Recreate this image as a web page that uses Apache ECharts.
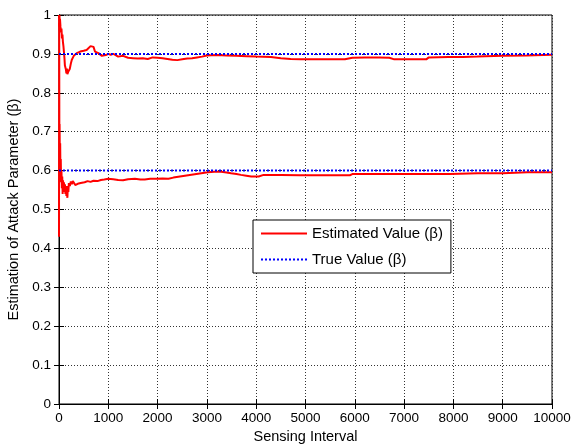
<!DOCTYPE html>
<html>
<head>
<meta charset="utf-8">
<script src="https://cdn.jsdelivr.net/npm/echarts@6/dist/echarts.min.js"></script>
<style>
  html, body { margin: 0; padding: 0; background: #fff; }
  #chart { width: 573px; height: 444px; }
</style>
</head>
<body>
<div id="chart"></div>
<script>
// Estimated beta for the high-beta run ([sensing interval, estimate])
const estHigh = [
  [0,1.0],[5,0.97],[10,1.0],[15,0.96],[20,0.99],[30,0.97],[40,0.955],[50,0.965],[60,0.94],[70,0.95],
  [80,0.93],[90,0.92],[100,0.905],[110,0.89],[120,0.87],[130,0.875],[140,0.86],[150,0.85],[160,0.862],
  [170,0.848],[180,0.845],[190,0.855],[200,0.85],[220,0.862],[240,0.875],[260,0.885],[280,0.88],[300,0.895],
  [330,0.9],[360,0.902],[400,0.898],[430,0.906],[460,0.905],[500,0.908],[530,0.904],[560,0.91],[600,0.912],
  [640,0.92],[670,0.923],[700,0.918],[730,0.906],[760,0.905],[800,0.902],[830,0.9],[870,0.895],[900,0.893],
  [950,0.897],[1000,0.9],[1050,0.898],[1100,0.9],[1150,0.897],[1200,0.893],[1300,0.895],[1400,0.89],
  [1500,0.889],[1600,0.888],[1700,0.889],[1800,0.887],[1900,0.891],[2000,0.89],[2100,0.889],[2200,0.887],
  [2300,0.885],[2400,0.884],[2500,0.886],[2600,0.888],[2700,0.889],[2800,0.891],[2900,0.893],[3000,0.896],
  [3200,0.897],[3400,0.896],[3600,0.895],[3800,0.894],[4000,0.893],[4300,0.892],[4500,0.889],[4700,0.887],
  [4900,0.886],[5200,0.886],[5500,0.886],[5800,0.886],[5950,0.89],[6200,0.891],[6500,0.891],[6700,0.89],
  [6800,0.886],[7100,0.886],[7450,0.886],[7500,0.891],[7900,0.892],[8200,0.892],[8480,0.893],[8500,0.895],
  [9000,0.895],[9480,0.896],[9500,0.898],[10000,0.898]
];

// Estimated beta for the low-beta run
const estLow = [
  [0,0.43],[4,0.98],[8,0.62],[12,0.72],[18,0.6],[24,0.67],[30,0.58],[36,0.63],[42,0.57],[50,0.6],
  [58,0.555],[66,0.585],[74,0.54],[82,0.575],[90,0.545],[100,0.57],[110,0.548],[120,0.565],[130,0.54],
  [140,0.56],[150,0.535],[160,0.555],[170,0.53],[180,0.56],[190,0.545],[200,0.568],[220,0.56],[240,0.572],
  [260,0.565],[280,0.573],[300,0.568],[330,0.563],[360,0.56],[380,0.566],[400,0.57],[440,0.568],[480,0.572],
  [520,0.57],[580,0.573],[640,0.571],[700,0.574],[780,0.573],[850,0.576],[920,0.577],[1000,0.579],
  [1100,0.578],[1200,0.576],[1300,0.575],[1400,0.578],[1540,0.579],[1650,0.577],[1740,0.577],[1850,0.579],
  [1980,0.579],[2100,0.58],[2220,0.579],[2320,0.582],[2420,0.584],[2520,0.586],[2620,0.588],[2720,0.59],
  [2820,0.592],[2920,0.594],[3020,0.596],[3150,0.597],[3290,0.597],[3400,0.595],[3490,0.593],[3600,0.591],
  [3690,0.589],[3800,0.587],[3900,0.585],[4050,0.585],[4150,0.589],[4500,0.589],[4890,0.588],[5500,0.588],
  [5900,0.588],[5950,0.591],[6500,0.591],[7000,0.591],[7930,0.591],[7950,0.593],[8500,0.593],[9000,0.593],
  [9020,0.596],[9500,0.596],[10000,0.596]
];

// True parameter values
const trueHigh = [[0,0.9],[10000,0.9]];
const trueLow = [[0,0.6],[10000,0.6]];

const estName = 'Estimated Value (\u03b2)';
const trueName = 'True Value (\u03b2)';
const xTitle = 'Sensing Interval';
const yTitle = 'Estimation of Attack Parameter (\u03b2)';

const FONT = 'Liberation Sans, Arial, sans-serif';
const chart = echarts.init(document.getElementById('chart'), null, { renderer: 'canvas' });

const gridLine = { show: true, lineStyle: { color: '#333', type: [1, 2], width: 1 } };
const ticksIn = { show: true, inside: true, length: 5, lineStyle: { color: '#000' } };

const redLine = { color: '#ff0000', width: 2 };
const blueLine = { color: '#0000ff', width: 2, type: [2, 2] };

chart.setOption({
  animation: false,
  backgroundColor: '#fff',
  textStyle: { fontFamily: FONT },
  grid: {
    left: 59, right: 21, top: 15, bottom: 40,
    outerBoundsMode: 'none', containLabel: false,
    show: true, borderColor: '#000', borderWidth: 1
  },
  legend: {
    orient: 'vertical',
    left: 253, top: 220,
    data: [estName, trueName],
    itemWidth: 46, itemHeight: 14, itemGap: 11,
    // line-only keys: hide the marker drawn on top of each key line
    itemStyle: { opacity: 0 },
    padding: [6, 8, 6, 7],
    borderColor: '#000', borderWidth: 1,
    backgroundColor: '#fff',
    textStyle: { fontFamily: FONT, fontSize: 15, color: '#000' }
  },
  xAxis: [{
    type: 'value', min: 0, max: 10000, interval: 1000,
    name: xTitle, nameLocation: 'middle', nameGap: 22,
    nameTextStyle: { fontFamily: FONT, fontSize: 14.5, color: '#000' },
    axisLine: { show: true, onZero: false, lineStyle: { color: '#000' } },
    axisTick: ticksIn,
    axisLabel: { color: '#000', fontSize: 13.5, fontFamily: FONT, margin: 7,
      formatter: v => String(v) },
    splitLine: gridLine
  }, {
    type: 'value', min: 0, max: 10000, interval: 1000, position: 'top',
    axisLine: { show: true, lineStyle: { color: '#000' } },
    axisTick: ticksIn, axisLabel: { show: false }, splitLine: { show: false }
  }],
  yAxis: [{
    type: 'value', min: 0, max: 1, interval: 0.1,
    name: yTitle, nameLocation: 'middle', nameGap: 31,
    nameTextStyle: { fontFamily: FONT, fontSize: 14.5, color: '#000' },
    axisLine: { show: true, onZero: false, lineStyle: { color: '#000' } },
    axisTick: ticksIn,
    axisLabel: { color: '#000', fontSize: 13.5, fontFamily: FONT, margin: 8,
      formatter: v => String(+v.toFixed(1)) },
    splitLine: gridLine
  }, {
    type: 'value', min: 0, max: 1, interval: 0.1, position: 'right',
    axisLine: { show: true, lineStyle: { color: '#000' } },
    axisTick: ticksIn, axisLabel: { show: false }, splitLine: { show: false }
  }],
  series: [
    { name: estName, type: 'line', data: estHigh, symbol: 'none', lineStyle: redLine, itemStyle: { color: '#ff0000' }, z: 3 },
    { name: estName, type: 'line', data: estLow, symbol: 'none', lineStyle: redLine, itemStyle: { color: '#ff0000' }, z: 3 },
    { name: trueName, type: 'line', data: trueHigh, symbol: 'none', lineStyle: blueLine, itemStyle: { color: '#0000ff' }, z: 4 },
    { name: trueName, type: 'line', data: trueLow, symbol: 'none', lineStyle: blueLine, itemStyle: { color: '#0000ff' }, z: 4 }
  ]
});
</script>
</body>
</html>
